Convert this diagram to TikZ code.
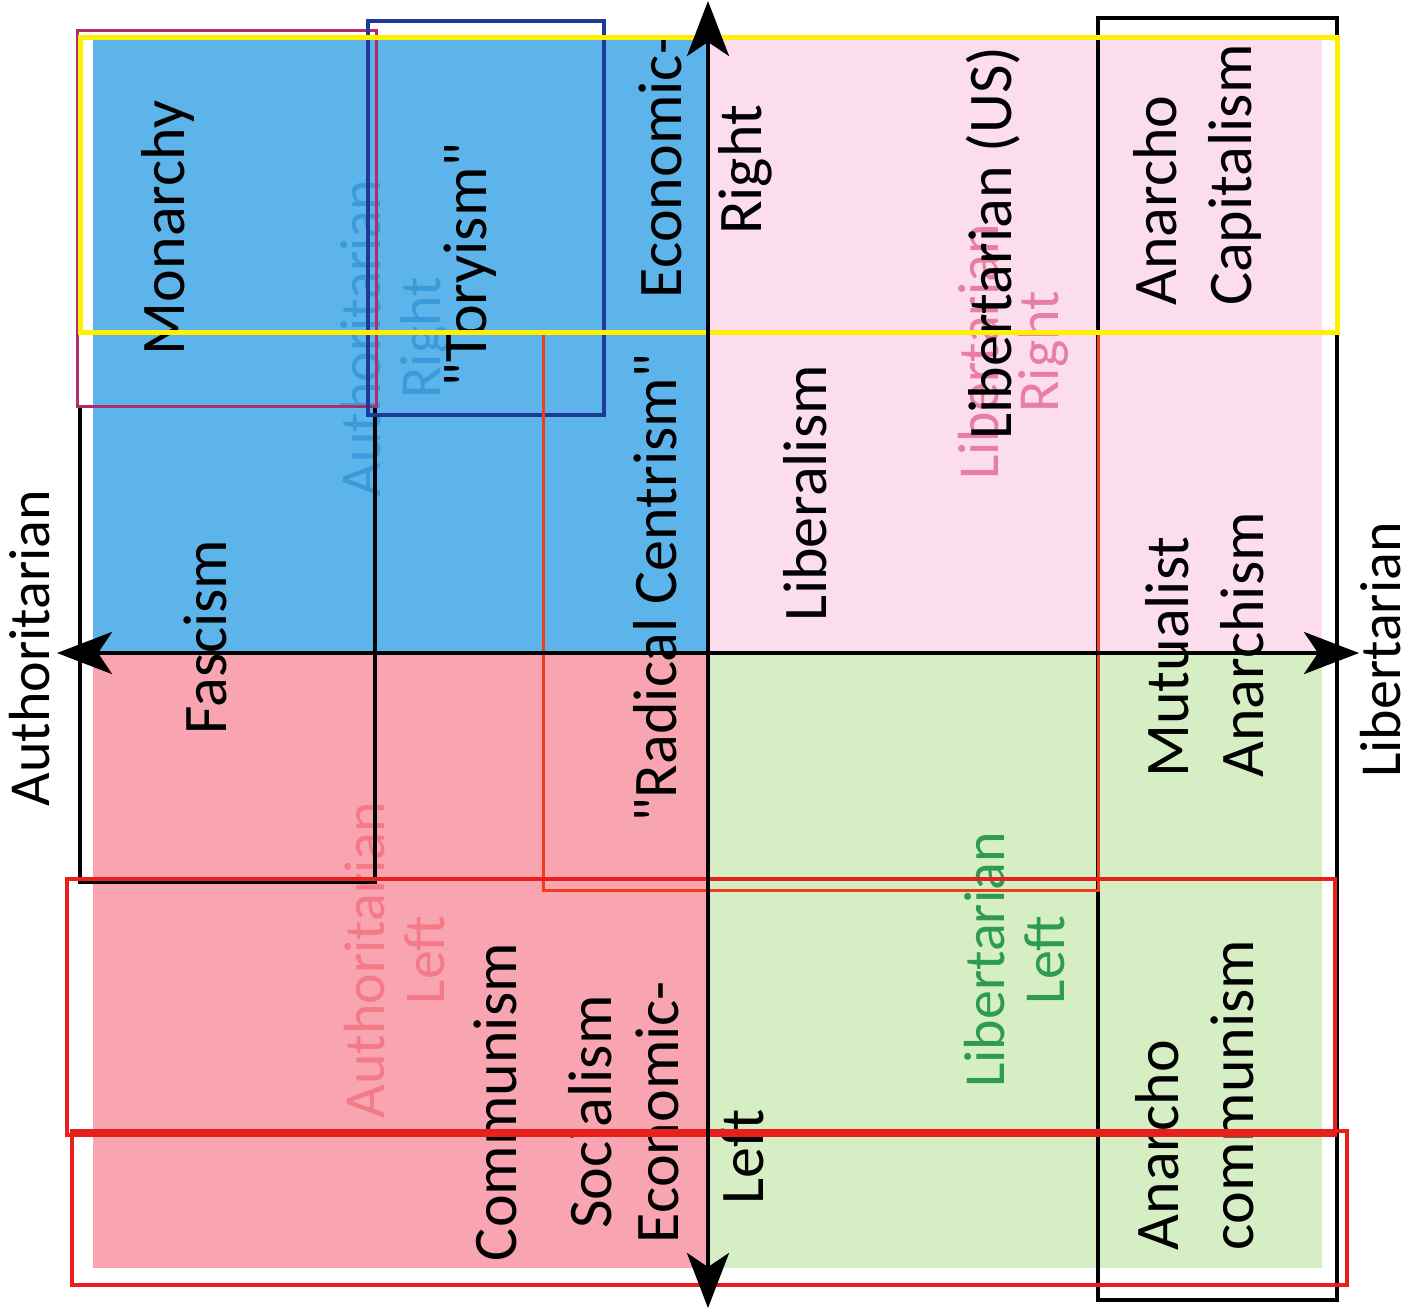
\documentclass[tikz,border=0pt]{standalone}
\usepackage{fontspec}
\setmainfont{Carlito}
\newfontfamily\cf{Carlito}
\usetikzlibrary{arrows.meta}
\definecolor{blueq}{HTML}{5DB4EA}
\definecolor{pinkq}{HTML}{FBDDEE}
\definecolor{redq}{HTML}{F9A5B1}
\definecolor{greenq}{HTML}{D6EEC3}
\definecolor{yell}{HTML}{FFF000}
\definecolor{magbox}{HTML}{B02C6A}
\definecolor{bluebox}{HTML}{1E3A96}
\definecolor{redbox}{HTML}{E8201C}
\definecolor{orbox}{HTML}{F03E1C}
\definecolor{bluetxt}{HTML}{3A9ADA}
\definecolor{pinktxt}{HTML}{E87FA2}
\definecolor{redtxt}{HTML}{F47A88}
\definecolor{greentxt}{HTML}{2E9C4E}
\begin{document}
\begin{tikzpicture}[x=1pt,y=-1pt,
  lbl/.style={rotate=90, font=\cf\fontsize{62}{75}\selectfont, inner sep=0pt},
  multi/.style={lbl, align=left},
  axlbl/.style={lbl, font=\cf\fontsize{58}{70}\selectfont},
  quad/.style={lbl, align=center, font=\cf\fontsize{58}{60}\selectfont},
  frame/.style={line width=4pt},
  axis/.style={line width=4pt, {Stealth[length=55pt,width=42pt,inset=14pt]}-{Stealth[length=55pt,width=42pt,inset=14pt]}}]
\useasboundingbox (0,0) rectangle (1415,1315);
% quadrant fills
\fill[blueq] (93,38) rectangle (708,653);
\fill[pinkq] (708,38) rectangle (1322,653);
\fill[redq] (93,653) rectangle (708,1268);
\fill[greenq] (708,653) rectangle (1322,1268);
% quadrant labels
\node[quad, text=bluetxt] (ar) at (395,338) {Authoritarian\\Right};
\node[quad, text=pinktxt] (lr) at (1013,352) {Libertarian\\Right};
\node[quad, text=redtxt] (al) at (395,960) {Authoritarian\\Left};
\node[quad, text=greentxt] (ll) at (1015,960) {Libertarian\\Left};
% ideology labels
\node[lbl] (mon) at (168,228) {Monarchy};
\node[lbl] (fas) at (205,637) {Fascism};
\node[lbl] (tor) at (470,265) {"Toryism"};
\node[lbl] (ecr) at (660,167) {Economic-};
\node[lbl] (rgt) at (745,170) {Right};
\node[lbl] (rad) at (655,588) {"Radical Centrism"};
\node[lbl] (lib) at (805,493) {Liberalism};
\node[lbl] (lus) at (993,243) {Libertarian (US)};
\node[multi] (acap) at (1197,175) {Anarcho\\Capitalism};
\node[multi] (mut) at (1205,645) {Mutualist\\Anarchism};
\node[lbl] (com) at (495,1102) {Communism};
\node[lbl] (soc) at (590,1112) {Socialism};
\node[lbl] (ecl) at (657,1112) {Economic-};
\node[lbl] (lft) at (742,1157) {Left};
\node[multi] (acom) at (1195,1095) {Anarcho\\communism};
% axis labels
\node[axlbl] (auth) at (30,648) {Authoritarian};
\node[axlbl] (libt) at (1381,650) {Libertarian};
% group frames
\draw[frame, black] (80,406) -- (80,882) -- (375,882) -- (375,406);
\draw[frame, black] (1098,18) rectangle (1337,1300);
\draw[line width=3pt, magbox] (77,30) rectangle (376,406);
\draw[line width=3.5pt, bluebox] (368,21) rectangle (604,415);
\draw[line width=3pt, orbox] (543,332) rectangle (1098,890);
\draw[line width=4pt, redbox] (67,879) rectangle (1335,1135);
\draw[line width=4pt, redbox] (72,1131) rectangle (1347,1285);
\draw[line width=5pt, yell] (80,37) rectangle (1337,332);
% axes
\coordinate (top) at (708,1);
\coordinate (bot) at (708,1308);
\coordinate (lft-end) at (57,653);
\coordinate (rgt-end) at (1359,653);
\draw[axis] (bot) -- (top);
\draw[axis] (lft-end) -- (rgt-end);
\end{tikzpicture}
\end{document}
